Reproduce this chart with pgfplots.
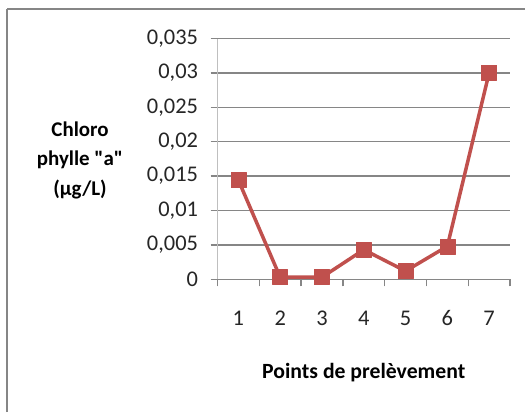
\documentclass[border=0pt]{standalone}
\usepackage{fontspec}
\setmainfont{Carlito}[Ligatures=TeXOff]
\usepackage{pgfplots}
\pgfplotsset{compat=1.18}
\definecolor{ser}{HTML}{C0504D}
\definecolor{gridc}{HTML}{868686}
\definecolor{yax}{HTML}{BFBFBF}
\begin{document}
\begin{tikzpicture}[x=1bp,y=1bp]
\useasboundingbox (0,0) rectangle (525,412);
\fill[white] (0,0) rectangle (525,412);
\draw[gridc, line width=2.2bp] (7,0) -- (7,403);
\draw[gridc, line width=1.3bp] (7,403) -- (525,403);
\begin{axis}[
  at={(217.5bp,132.7bp)}, anchor=south west,
  scale only axis, width=292.5bp, height=240.8bp,
  xmin=0.5, xmax=7.5, ymin=0, ymax=0.035,
  clip=false, scaled y ticks=false,
  axis x line*=bottom, axis y line*=left,
  x axis line style={gridc, line width=1.3bp},
  y axis line style={yax, line width=1.3bp},
  ytick={0,0.005,0.01,0.015,0.02,0.025,0.03,0.035},
  yticklabels={0,{0,005},{0,01},{0,015},{0,02},{0,025},{0,03},{0,035}},
  xtick={0.5,1.5,2.5,3.5,4.5,5.5,6.5,7.5},
  x tick label as interval,
  xticklabels={1,2,3,4,5,6,7},
  ymajorgrids, grid style={gridc, line width=1.3bp},
  tick align=outside, major tick length=7bp,
  tick style={gridc, line width=1.3bp},
  tick label style={font=\fontsize{22.5}{26}\selectfont, text=black!85},
  yticklabel style={xshift=-9bp},
  xticklabel style={yshift=-21bp},
  xlabel={Points de prelèvement},
  xlabel style={at={(rel axis cs:0.5,-0.389)}, anchor=center, font=\fontsize{21.8}{25}\selectfont\bfseries},
]
\addplot[ser, line width=3.5bp, line join=round, mark=square*, mark size=7.5bp,
  mark options={fill=ser, draw=ser, line width=0.5bp, solid}]
  coordinates {(1,0.0144) (2,0.0003) (3,0.0003) (4,0.0043) (5,0.0012) (6,0.0048) (7,0.0300)};
\node[font=\fontsize{21}{29.5}\selectfont\bfseries, align=center] at (rel axis cs:-0.47,0.495) {Chloro\\phylle "a"\\(µg/L)};
\end{axis}
\end{tikzpicture}
\end{document}
